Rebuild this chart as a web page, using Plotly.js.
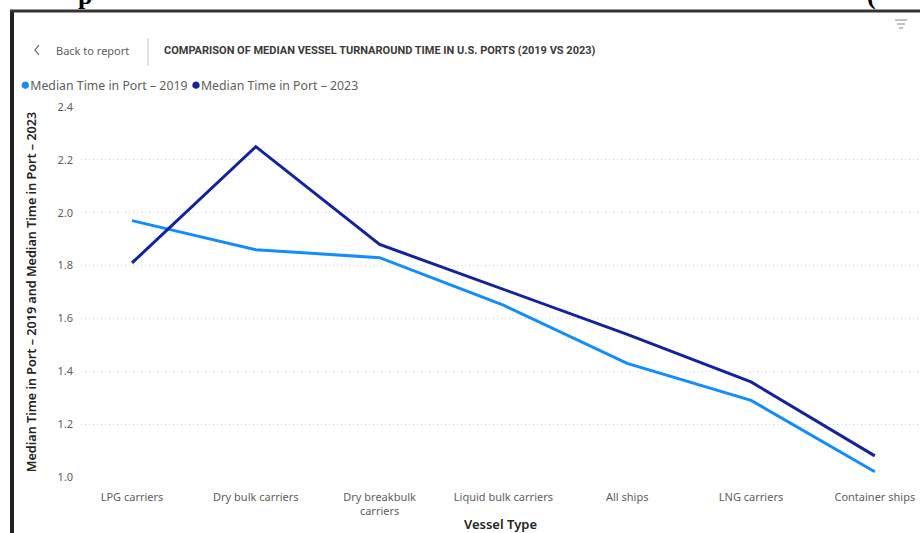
<!DOCTYPE html>
<html>
<head>
<meta charset="utf-8">
<script src="https://cdn.plot.ly/plotly-3.0.1.min.js"></script>
<style>
html,body{margin:0;padding:0;background:#fff;}
#chart{width:920px;height:533px;}
</style>
</head>
<body>
<div id="chart"></div>
<script>
// ---- data ----
const vesselTypes = ["LPG carriers","Dry bulk carriers","Dry breakbulk carriers","Liquid bulk carriers","All ships","LNG carriers","Container ships"];
const vesselTickText = ["LPG carriers","Dry bulk carriers","Dry breakbulk<br>carriers","Liquid bulk carriers","All ships","LNG carriers","Container ships"];
const median2019 = [1.97, 1.86, 1.83, 1.65, 1.43, 1.29, 1.02];
const median2023 = [1.81, 2.25, 1.88, 1.71, 1.54, 1.36, 1.08];
const seriesNames = ["Median Time in Port – 2019", "Median Time in Port – 2023"];
const seriesColors = ["#118DFF", "#12239E"];
const yTicks = [1.0, 1.2, 1.4, 1.6, 1.8, 2.0, 2.2, 2.4];
const chartTitle = "COMPARISON OF MEDIAN VESSEL TURNAROUND TIME IN U.S. PORTS (2019 VS 2023)";

// ---- layout helpers (pixel -> paper) ----
const W = 920, H = 533, ML = 81, MR = 0, MT = 107, MB = 56;
const PW = W - ML - MR, PH = H - MT - MB;
const px = x => (x - ML) / PW;
const py = y => (H - MB - y) / PH;

const traces = [
  {x: vesselTypes, y: median2019, name: seriesNames[0], type: "scatter", mode: "lines",
   line: {color: seriesColors[0], width: 3}, showlegend: false, cliponaxis: false},
  {x: vesselTypes, y: median2023, name: seriesNames[1], type: "scatter", mode: "lines",
   line: {color: seriesColors[1], width: 3}, showlegend: false, cliponaxis: false}
];

const gray = "#605e5c";
const sansFont = "Noto Sans, Segoe UI, sans-serif";

const layout = {
  width: W, height: H,
  margin: {l: ML, r: MR, t: MT, b: MB, pad: 0},
  paper_bgcolor: "#ffffff", plot_bgcolor: "#ffffff",
  showlegend: false,
  xaxis: {
    type: "category",
    range: [-0.412, 6.365],
    tickvals: vesselTypes, ticktext: vesselTickText,
    showgrid: false, zeroline: false, showline: false,
    ticks: "", ticklabelstandoff: 12,
    tickfont: {family: sansFont, size: 11, color: gray},
    title: {text: "Vessel Type", font: {family: sansFont, size: 13, color: "#252423", weight: 600}, standoff: 4}
  },
  yaxis: {
    range: [1.0, 2.4],
    tickvals: yTicks, tickformat: ".1f",
    showgrid: true, gridcolor: "#d2d2d2", griddash: "1px,3px", gridwidth: 1,
    zeroline: false, showline: false, ticks: "", ticklabelstandoff: 7,
    tickfont: {family: sansFont, size: 11, color: gray},
    title: {text: seriesNames[0] + " and " + seriesNames[1],
            font: {family: sansFont, size: 12.6, color: "#252423", weight: 600}, standoff: 18}
  },
  annotations: [
    // cut-off text above the frame
    {xref: "paper", yref: "paper", x: px(85), y: py(12), xanchor: "center", yanchor: "bottom",
     text: "<b>p</b>", showarrow: false, font: {family: "Liberation Serif, serif", size: 26, color: "#000"}},
    {xref: "paper", yref: "paper", x: px(871), y: py(12), xanchor: "center", yanchor: "bottom",
     text: "<b>(</b>", showarrow: false, font: {family: "Liberation Serif, serif", size: 26, color: "#000"}},
    // header
    {xref: "paper", yref: "paper", x: px(54), y: py(50), xanchor: "left", yanchor: "middle",
     text: "Back to report", showarrow: false, font: {family: sansFont, size: 11, color: gray}},
    {xref: "paper", yref: "paper", x: px(162), y: py(50), xanchor: "left", yanchor: "middle",
     text: "<b>" + chartTitle + "</b>", showarrow: false,
     font: {family: "Roboto, sans-serif", size: 11, color: "#3b3a39"}},
    // legend
    {xref: "paper", yref: "paper", x: px(18), y: py(84), xanchor: "left", yanchor: "middle",
     text: "<span style='color:" + seriesColors[0] + ";font-size:17px'>●</span>" + seriesNames[0] +
           " <span style='color:" + seriesColors[1] + ";font-size:17px'>●</span>" + seriesNames[1],
     showarrow: false, font: {family: sansFont, size: 12.3, color: gray}}
  ],
  shapes: [
    // frame
    {type: "line", xref: "paper", yref: "paper", x0: px(12), x1: px(12), y0: py(10), y1: py(533),
     line: {color: "#222", width: 4}},
    {type: "line", xref: "paper", yref: "paper", x0: px(10), x1: px(920), y0: py(11), y1: py(11),
     line: {color: "#333", width: 3}},
    // separator
    {type: "line", xref: "paper", yref: "paper", x0: px(148), x1: px(148), y0: py(38), y1: py(66),
     line: {color: "#c8c6c4", width: 1}},
    // back chevron
    {type: "path", xref: "paper", yref: "paper",
     path: "M " + px(39) + " " + py(45) + " L " + px(35) + " " + py(50) + " L " + px(39) + " " + py(55),
     line: {color: gray, width: 1.2}},
    // filter icon
    {type: "line", xref: "paper", yref: "paper", x0: px(895), x1: px(907), y0: py(20), y1: py(20), line: {color: "#a0a0a0", width: 1.3}},
    {type: "line", xref: "paper", yref: "paper", x0: px(897), x1: px(905), y0: py(24), y1: py(24), line: {color: "#a0a0a0", width: 1.3}},
    {type: "line", xref: "paper", yref: "paper", x0: px(899), x1: px(903), y0: py(28), y1: py(28), line: {color: "#a0a0a0", width: 1.3}}
  ]
};

Plotly.newPlot("chart", traces, layout, {displayModeBar: false, responsive: false});
</script>
</body>
</html>
